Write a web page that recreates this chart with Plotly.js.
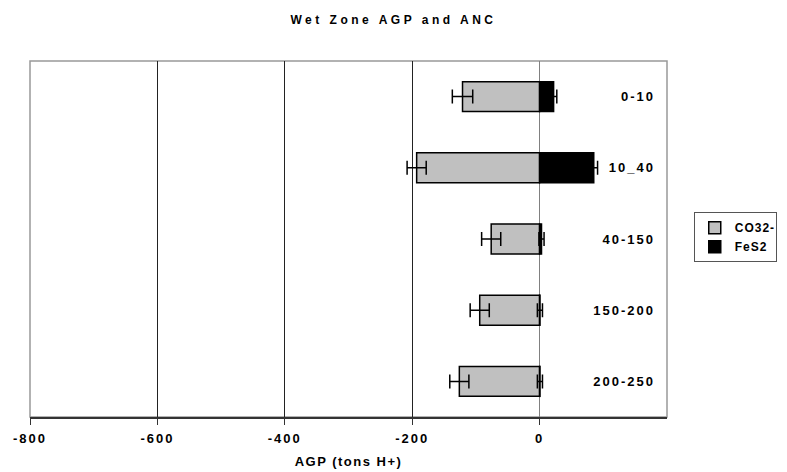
<!DOCTYPE html>
<html>
<head>
<meta charset="utf-8">
<script src="https://cdn.plot.ly/plotly-3.0.1.min.js"></script>
<style>
html,body{margin:0;padding:0;background:#fff;}
#chart{width:787px;height:472px;}
#chart .gtitle{letter-spacing:3.5px;}
#chart .xtick text{letter-spacing:2px;}
#chart .ytick text{letter-spacing:2px;}
#chart .xtitle{letter-spacing:1.5px;}
#chart .legendtext{letter-spacing:1px;}
</style>
</head>
<body>
<div id="chart"></div>
<script>
const categories = ['0-10', '10_40', '40-150', '150-200', '200-250'];
const co3Values = [-121, -193, -76, -94, -126];
const co3Errors = [16, 15, 15, 15, 15];
const fes2Values = [22, 85, 3, 0.5, 0.5];
const fes2Errors = [5, 6, 4, 4, 4];
const xTicks = [-800, -600, -400, -200, 0, 200];

const font = 'Liberation Sans, Arial, sans-serif';

const traces = [
  {
    type: 'bar', orientation: 'h', name: 'CO32-',
    y: categories, x: co3Values,
    marker: {color: '#c0c0c0', line: {color: '#000', width: 1.5}},
    error_x: {type: 'data', array: co3Errors, visible: true, color: '#000', thickness: 1.5, width: 7}
  },
  {
    type: 'bar', orientation: 'h', name: 'FeS2',
    y: categories, x: fes2Values,
    marker: {color: '#000', line: {color: '#000', width: 1.5}},
    error_x: {type: 'data', array: fes2Errors, visible: true, color: '#000', thickness: 1.5, width: 7}
  }
];

const layout = {
  width: 787, height: 472,
  margin: {l: 30, r: 120, t: 61, b: 55, autoexpand: false},
  paper_bgcolor: '#fff', plot_bgcolor: '#fff',
  barmode: 'relative', bargap: 0.58,
  font: {family: font, color: '#000'},
  title: {text: '<b>Wet Zone AGP and ANC</b>', font: {size: 12, family: font, color: '#000'},
          xref: 'container', x: 0.5, xanchor: 'center', yref: 'container', y: 0.957, yanchor: 'middle'},
  xaxis: {
    range: [-800, 200], tickvals: xTicks, ticktext: xTicks.map(String),
    showgrid: true, gridcolor: '#222', gridwidth: 1,
    zeroline: true, zerolinecolor: '#808080', zerolinewidth: 1,
    showline: true, linecolor: '#333', linewidth: 1.5,
    ticks: 'outside', ticklen: 6, tickcolor: '#333', tickwidth: 1, ticklabelstandoff: 3,
    tickfont: {size: 13, family: font, color: '#000', weight: 'bold'},
    title: {text: '<b>AGP (tons H+)</b>', font: {size: 13, family: font, color: '#000'}, standoff: 12}
  },
  yaxis: {
    type: 'category', autorange: 'reversed',
    side: 'right', ticklabelposition: 'inside', ticks: '', ticklabelstandoff: 9,
    showgrid: false, zeroline: false, showline: false,
    tickfont: {size: 13, family: font, color: '#000', weight: 'bold'}
  },
  shapes: [
    {type: 'rect', xref: 'paper', yref: 'paper', x0: 0, x1: 1, y0: 0, y1: 1,
     line: {color: '#999', width: 1.5}, fillcolor: 'rgba(0,0,0,0)', layer: 'below'}
  ],
  legend: {
    x: 1.042, y: 0.575, xanchor: 'left', yanchor: 'top',
    bordercolor: '#555', borderwidth: 1, bgcolor: '#fff',
    font: {size: 12, family: font, color: '#000', weight: 'bold'},
    traceorder: 'normal', itemwidth: 30, tracegroupgap: 0
  },
  showlegend: true
};

Plotly.newPlot('chart', traces, layout, {displayModeBar: false, staticPlot: true});
</script>
</body>
</html>
